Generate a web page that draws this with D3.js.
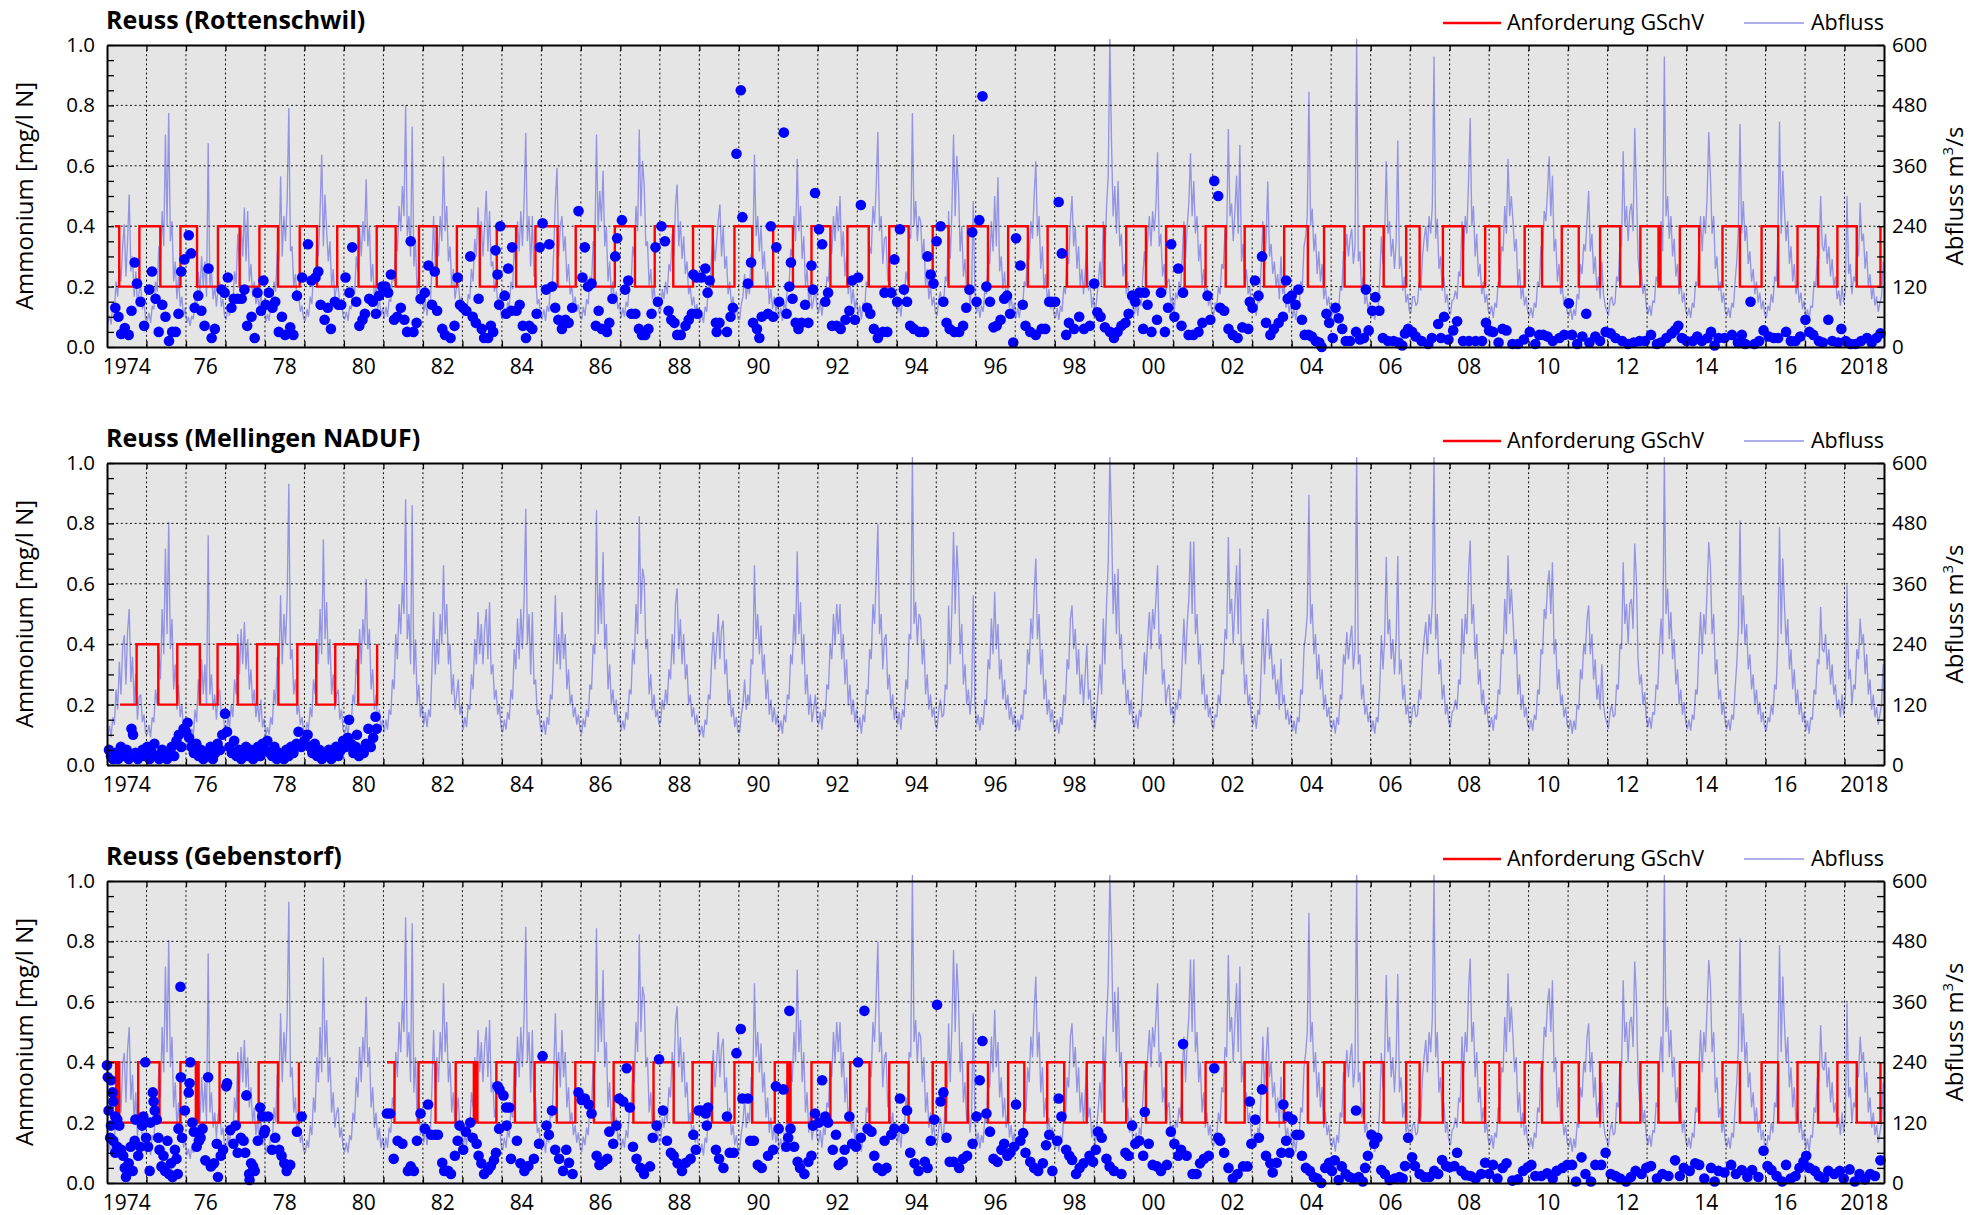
<!DOCTYPE html>
<html><head><meta charset="utf-8">
<script src="https://cdn.jsdelivr.net/npm/d3@7"></script>
<style>body{margin:0;background:#fff}svg{display:block}text{font-family:"Open Sans",sans-serif;fill:#000}</style>
</head><body><svg id="c" width="1984" height="1215"></svg>
<script>
const years = d3.range(1974, 2019);
const xLabelYears = d3.range(1974, 2019, 2);
const xLabels = xLabelYears.map(y => (y === 1974 || y === 2018) ? String(y) : String(y).slice(2));
const yLeftLabels = [0, 0.2, 0.4, 0.6, 0.8, 1.0];
const yRightLabels = [0, 120, 240, 360, 480, 600];
const titles = ["Reuss (Rottenschwil)", "Reuss (Mellingen NADUF)", "Reuss (Gebenstorf)"];
const legendLabels = ["Anforderung GSchV", "Abfluss"];

// Abfluss (m3/s), 24 half-month values per year, Rottenschwil
const qRottenschwil = [
[48,62,45,85,70,130,100,165,130,200,244,140,210,303,150,180,100,150,80,110,120,75,90,55],
[52,68,48,82,75,130,110,200,160,270,200,422,240,465,210,250,130,170,95,140,80,100,60,78],
[48,60,42,62,55,95,75,150,110,180,120,170,100,405,120,150,95,120,80,115,130,80,95,60],
[55,80,62,105,85,150,125,225,160,240,180,277,170,270,130,165,100,130,85,105,75,110,62,80],
[50,65,52,82,70,130,110,190,170,339,180,260,210,290,475,190,200,120,145,90,105,70,82,56],
[52,75,60,100,85,150,125,210,180,270,382,200,303,230,170,210,120,155,95,120,120,80,95,60],
[55,70,52,82,75,120,105,180,150,235,180,250,210,333,200,240,130,165,95,120,75,95,62,78],
[56,80,60,95,90,150,130,225,190,280,230,320,260,481,220,260,180,438,160,210,105,140,82,105],
[70,90,62,95,82,160,260,160,220,180,260,210,379,230,280,170,200,120,155,95,120,135,85,100],
[60,82,62,105,95,155,130,215,180,277,200,250,180,240,310,190,270,160,170,110,130,85,100,62],
[55,78,60,90,80,130,115,200,165,250,190,270,200,290,425,210,260,160,260,140,145,85,95,62],
[55,75,52,82,70,120,115,190,290,356,180,240,260,190,220,130,165,105,120,82,100,70,85,60],
[55,80,62,95,85,140,130,210,200,422,230,310,250,350,200,240,130,170,105,130,85,110,75,88],
[58,78,60,90,80,130,120,200,180,280,230,432,260,370,320,200,210,120,155,95,120,82,95,68],
[72,115,95,130,105,165,150,225,180,280,323,200,250,175,220,145,170,105,120,82,100,70,85,60],
[50,68,48,80,70,120,115,185,220,170,210,250,283,180,240,155,180,105,130,82,100,65,82,55],
[55,85,100,145,95,125,105,185,175,382,220,260,190,240,155,190,115,150,85,115,75,100,70,88],
[58,78,52,88,75,120,115,195,180,260,210,374,230,280,175,220,120,155,85,120,75,95,120,78],
[68,92,62,95,82,140,130,210,185,260,210,280,230,300,180,230,140,180,105,140,85,115,75,95],
[62,82,55,88,75,130,120,200,185,280,245,320,427,230,260,165,215,220,130,155,95,120,80,100],
[68,92,60,95,82,150,130,225,215,465,240,290,210,260,250,175,215,120,155,95,120,82,100,68],
[62,95,110,82,88,140,130,270,175,270,422,260,380,320,190,240,140,175,105,130,85,120,290,105],
[68,88,58,82,70,112,105,180,165,250,190,300,200,337,150,180,115,150,95,120,78,100,70,88],
[58,78,58,88,78,130,120,200,175,250,215,300,369,220,260,155,200,115,145,88,115,75,95,65],
[58,78,54,82,70,120,105,180,165,250,300,200,240,155,200,120,155,105,150,200,112,130,78,100],
[62,95,130,170,120,250,175,280,340,612,409,260,320,225,330,200,225,140,165,105,130,88,112,75],
[65,88,62,95,82,140,190,155,210,260,200,270,230,280,387,200,225,140,165,105,130,135,88,100],
[68,108,95,130,112,180,250,175,240,285,385,260,330,225,260,170,205,120,155,95,120,82,100,68],
[62,88,82,120,105,165,155,235,215,433,260,285,210,270,340,225,402,170,205,120,155,105,120,82],
[68,88,62,95,88,165,250,155,215,329,180,205,145,170,120,145,95,180,105,120,78,95,68,88],
[58,75,54,82,75,130,120,200,220,260,507,240,275,190,225,145,190,130,165,95,120,82,100,68],
[62,78,54,82,70,120,112,190,175,225,180,215,235,165,200,612,170,190,112,140,85,105,72,90],
[58,75,54,82,75,130,220,165,215,369,225,250,180,215,155,210,410,155,180,112,140,88,105,72],
[68,100,100,82,88,130,112,180,215,240,190,260,225,280,577,215,255,155,180,112,140,88,105,72],
[65,92,95,112,95,150,140,250,190,260,225,330,455,240,280,180,225,140,165,105,130,88,105,72],
[65,82,58,88,78,130,120,200,190,280,225,374,260,300,250,190,215,120,155,95,120,82,100,68],
[62,78,58,88,78,130,120,200,190,270,250,310,379,260,340,190,215,130,165,105,120,82,100,68],
[62,78,54,75,62,105,95,165,145,205,190,250,310,190,225,145,180,112,140,95,170,105,82,72],
[62,92,100,82,88,140,130,205,200,389,240,280,210,270,285,230,435,320,180,140,155,105,125,82],
[65,82,62,92,88,140,130,200,250,190,577,260,300,215,260,180,215,140,165,105,130,88,108,72],
[62,78,58,88,78,130,120,200,260,190,260,225,300,427,340,225,260,155,180,112,130,88,108,72],
[62,78,58,88,78,130,170,235,443,225,290,210,240,165,190,130,155,105,130,88,108,75,92,65],
[58,82,72,105,88,140,130,215,448,225,350,270,210,250,165,200,130,165,105,130,88,108,75,92],
[58,75,54,82,78,130,120,180,175,300,200,190,225,165,200,140,175,120,140,95,112,82,120,88],
[112,300,145,165,105,140,130,200,180,287,210,225,155,190,120,145,95,120,82,100,70,88,100,170]
];

// Abfluss (m3/s), 24 half-month values per year, Mellingen
const qMellingen = [
[60,78,55,95,80,150,110,205,140,235,258,160,265,310,165,215,120,180,90,135,140,85,100,62],
[62,80,55,95,85,150,120,230,170,310,220,430,260,483,230,290,150,200,110,160,95,120,70,90],
[55,68,48,72,60,110,85,170,120,210,140,200,120,456,140,180,110,140,90,135,150,95,110,70],
[65,95,75,120,95,170,140,260,180,270,200,284,190,250,150,190,120,150,95,125,85,130,75,92],
[58,75,60,95,80,150,120,215,190,337,200,300,240,330,559,210,230,140,170,100,120,80,95,65],
[60,85,70,115,95,170,140,250,200,310,220,448,250,324,200,250,140,180,110,140,150,90,110,70],
[62,80,60,95,85,140,120,210,170,270,200,290,240,370,230,270,150,190,110,140,85,110,70,90],
[65,90,70,110,100,170,150,260,210,320,260,360,300,528,250,300,200,516,180,250,120,160,95,120],
[80,105,75,110,95,190,304,180,250,200,300,240,397,260,320,200,240,140,180,110,140,170,100,120],
[70,95,75,120,110,180,150,250,200,304,220,280,200,270,310,210,324,180,200,130,150,100,120,75],
[65,90,70,105,90,150,130,230,190,291,210,310,230,330,509,240,300,180,304,160,170,100,110,75],
[65,88,60,95,80,140,130,220,337,200,260,190,304,210,260,150,190,120,140,95,115,80,100,70],
[62,92,75,110,95,160,150,240,220,506,260,360,280,423,230,280,150,200,120,150,100,130,85,100],
[68,88,70,105,90,150,140,230,200,320,260,494,300,390,370,230,250,140,180,110,140,95,110,80],
[85,130,110,150,120,190,170,260,200,320,351,230,290,200,260,170,200,120,140,95,115,80,100,70],
[60,78,55,90,80,140,130,210,264,190,240,300,210,270,287,180,210,120,150,95,115,75,95,65],
[65,100,120,170,110,140,120,210,200,397,250,300,220,277,180,220,130,170,100,130,85,115,80,100],
[68,88,62,100,85,140,130,220,200,300,240,424,260,324,200,260,140,180,100,140,85,110,140,90],
[80,105,70,110,95,160,150,240,210,300,240,320,260,320,210,260,160,210,120,160,100,130,85,110],
[72,95,62,100,85,150,140,230,210,320,280,373,479,260,300,190,250,260,150,180,110,140,90,115],
[80,105,70,110,95,170,150,260,250,612,280,324,240,300,291,200,250,140,180,110,140,95,115,80],
[72,110,130,95,100,160,150,317,200,310,463,300,436,370,220,280,160,200,120,150,100,140,337,120],
[80,100,68,95,80,130,120,210,190,291,220,344,230,280,170,210,130,170,110,140,90,115,80,100],
[68,90,68,100,90,150,140,230,200,291,250,344,410,250,300,180,230,130,170,100,130,85,110,75],
[68,90,62,95,80,140,120,210,190,290,317,230,270,180,230,140,180,120,180,238,130,150,90,115],
[72,110,150,200,140,291,200,320,400,612,489,300,380,260,390,230,260,160,190,120,150,100,130,85],
[75,100,72,110,95,160,224,180,250,304,230,310,270,330,397,230,260,160,190,120,150,160,100,115],
[80,125,110,150,130,210,291,200,280,330,444,300,444,260,300,200,240,140,180,110,140,95,115,80],
[72,100,95,140,120,190,180,270,250,453,300,330,240,320,397,260,430,200,240,140,180,120,140,95],
[80,100,72,110,100,190,291,180,250,310,210,240,170,200,140,170,110,211,120,140,90,110,80,100],
[68,88,62,95,85,150,140,230,258,300,537,280,320,220,260,170,220,150,190,110,140,95,115,80],
[72,90,62,95,80,140,130,220,200,264,210,250,277,190,230,612,200,220,130,160,100,120,85,105],
[68,88,62,95,85,150,258,190,250,413,260,290,210,250,180,250,415,180,210,130,160,100,120,85],
[80,115,120,95,100,150,130,210,250,284,220,300,260,327,612,250,300,180,210,130,160,100,120,85],
[75,105,110,130,110,170,160,291,220,300,260,383,446,280,320,210,260,160,190,120,150,100,120,85],
[75,95,68,100,90,150,140,230,220,330,260,416,300,350,291,220,250,140,180,110,140,95,115,80],
[72,90,68,100,90,150,140,230,220,310,290,357,387,300,403,220,250,150,190,120,140,95,115,80],
[72,90,62,88,70,120,110,190,170,240,220,290,317,220,260,170,210,130,160,110,200,120,95,85],
[72,105,120,95,100,160,150,240,230,403,280,320,240,320,330,270,440,370,210,160,180,120,145,95],
[75,95,72,105,100,160,150,230,291,220,612,300,350,250,304,210,250,160,190,120,150,100,125,85],
[72,90,68,100,90,150,140,230,304,220,300,260,350,443,397,260,300,180,210,130,150,100,125,85],
[72,90,68,100,90,150,200,270,486,260,337,240,280,190,220,150,180,120,150,100,125,85,105,75],
[68,95,85,120,100,160,150,250,473,260,410,317,240,290,190,230,150,190,120,150,100,125,85,105],
[68,88,62,95,90,150,140,210,200,314,230,224,260,190,230,160,200,140,160,110,130,95,140,100],
[130,357,170,190,120,160,150,230,210,291,240,260,180,220,140,170,110,140,95,115,80,100,120,200]
];

// Ammonium samples [decimal year, mg/l N]
const nh4Rottenschwil = [
[1974.21,0.13],[1974.29,0.10],[1974.36,0.043],[1974.45,0.063],[1974.55,0.04],[1974.62,0.12],[1974.70,0.28],[1974.76,0.21],[1974.85,0.15],[1974.94,0.07],
[1975.07,0.19],[1975.14,0.25],[1975.23,0.16],[1975.31,0.05],[1975.40,0.14],[1975.48,0.10],[1975.57,0.02],[1975.65,0.05],[1975.74,0.05],[1975.81,0.11],[1975.88,0.25],[1975.96,0.29],
[1976.07,0.37],[1976.13,0.31],[1976.22,0.13],[1976.31,0.17],[1976.39,0.12],[1976.47,0.07],[1976.57,0.26],[1976.65,0.03],[1976.73,0.06],[1976.90,0.19],[1976.98,0.18],
[1977.06,0.23],[1977.15,0.13],[1977.21,0.16],[1977.31,0.16],[1977.41,0.16],[1977.48,0.19],[1977.55,0.07],[1977.66,0.10],[1977.74,0.03],[1977.81,0.18],[1977.90,0.12],[1977.96,0.22],
[1978.02,0.14],[1978.10,0.18],[1978.19,0.13],[1978.26,0.15],[1978.35,0.05],[1978.43,0.10],[1978.51,0.04],[1978.64,0.065],[1978.72,0.04],[1978.81,0.17],[1978.94,0.23],
[1979.09,0.34],[1979.18,0.22],[1979.28,0.23],[1979.35,0.25],[1979.41,0.14],[1979.51,0.09],[1979.59,0.13],[1979.67,0.06],[1979.77,0.15],[1979.86,0.14],[1979.93,0.14],
[1980.04,0.23],[1980.14,0.18],[1980.21,0.33],[1980.31,0.15],[1980.39,0.07],[1980.47,0.09],[1980.53,0.11],[1980.64,0.16],[1980.73,0.15],[1980.81,0.11],[1980.89,0.17],[1980.97,0.20],
[1981.05,0.20],[1981.12,0.18],[1981.19,0.24],[1981.27,0.09],[1981.35,0.10],[1981.44,0.13],[1981.53,0.09],[1981.60,0.05],[1981.69,0.35],[1981.76,0.05],[1981.84,0.08],[1981.94,0.16],
[1982.05,0.18],[1982.14,0.27],[1982.23,0.14],[1982.30,0.25],[1982.36,0.12],[1982.49,0.06],[1982.56,0.04],[1982.70,0.03],[1982.80,0.07],[1982.88,0.23],[1982.94,0.14],
[1983.02,0.13],[1983.10,0.12],[1983.20,0.30],[1983.26,0.10],[1983.34,0.08],[1983.41,0.16],[1983.49,0.06],[1983.55,0.03],[1983.65,0.03],[1983.72,0.07],[1983.78,0.05],[1983.84,0.32],[1983.89,0.24],[1983.93,0.14],[1983.96,0.40],
[1984.07,0.17],[1984.11,0.11],[1984.16,0.26],[1984.24,0.12],[1984.26,0.33],[1984.37,0.12],[1984.45,0.14],[1984.53,0.07],[1984.61,0.03],[1984.69,0.07],[1984.77,0.06],[1984.88,0.11],[1984.96,0.33],
[1985.03,0.41],[1985.12,0.19],[1985.20,0.34],[1985.27,0.20],[1985.35,0.13],[1985.43,0.09],[1985.52,0.06],[1985.61,0.09],[1985.69,0.08],[1985.78,0.13],[1985.94,0.45],
[1986.04,0.23],[1986.10,0.33],[1986.18,0.20],[1986.27,0.21],[1986.38,0.07],[1986.45,0.12],[1986.53,0.06],[1986.66,0.05],[1986.72,0.08],[1986.80,0.16],[1986.87,0.30],[1986.92,0.36],
[1987.04,0.42],[1987.12,0.19],[1987.20,0.22],[1987.28,0.11],[1987.38,0.11],[1987.47,0.06],[1987.55,0.04],[1987.63,0.04],[1987.71,0.06],[1987.79,0.11],[1987.89,0.33],[1987.95,0.15],
[1988.04,0.40],[1988.13,0.35],[1988.22,0.12],[1988.29,0.09],[1988.37,0.08],[1988.44,0.04],[1988.53,0.04],[1988.65,0.07],[1988.73,0.09],[1988.81,0.11],[1988.85,0.24],[1988.93,0.23],[1988.95,0.11],
[1989.05,0.23],[1989.15,0.26],[1989.21,0.18],[1989.26,0.22],[1989.42,0.08],[1989.44,0.05],[1989.51,0.08],[1989.70,0.05],[1989.79,0.10],[1989.85,0.13],[1989.94,0.64],
[1990.05,0.85],[1990.09,0.43],[1990.23,0.21],[1990.31,0.28],[1990.36,0.08],[1990.46,0.06],[1990.52,0.03],[1990.58,0.10],[1990.74,0.11],[1990.81,0.40],[1990.87,0.10],[1990.95,0.33],
[1991.02,0.15],[1991.14,0.71],[1991.21,0.11],[1991.28,0.20],[1991.32,0.28],[1991.36,0.16],[1991.44,0.08],[1991.51,0.06],[1991.59,0.08],[1991.68,0.14],[1991.76,0.08],[1991.84,0.27],[1991.88,0.19],[1991.93,0.51],
[1992.03,0.39],[1992.11,0.34],[1992.19,0.15],[1992.26,0.18],[1992.36,0.07],[1992.48,0.07],[1992.58,0.06],[1992.70,0.09],[1992.80,0.12],[1992.87,0.22],[1992.94,0.09],
[1993.02,0.23],[1993.09,0.47],[1993.25,0.13],[1993.33,0.11],[1993.42,0.06],[1993.52,0.03],[1993.65,0.05],[1993.69,0.18],[1993.76,0.05],[1993.86,0.18],[1993.94,0.29],
[1994.01,0.15],[1994.08,0.39],[1994.18,0.19],[1994.26,0.15],[1994.34,0.07],[1994.43,0.06],[1994.57,0.05],[1994.69,0.05],[1994.78,0.30],[1994.86,0.24],[1994.93,0.21],
[1995.01,0.35],[1995.11,0.40],[1995.18,0.15],[1995.26,0.08],[1995.34,0.06],[1995.46,0.05],[1995.58,0.05],[1995.68,0.07],[1995.76,0.13],[1995.84,0.19],[1995.91,0.38],
[1996.02,0.15],[1996.09,0.42],[1996.17,0.83],[1996.27,0.20],[1996.36,0.15],[1996.45,0.065],[1996.53,0.07],[1996.63,0.09],[1996.72,0.16],[1996.79,0.17],[1996.87,0.11],[1996.95,0.015],
[1997.02,0.36],[1997.13,0.27],[1997.19,0.14],[1997.26,0.07],[1997.38,0.05],[1997.52,0.04],[1997.67,0.06],[1997.76,0.06],[1997.86,0.15],[1997.93,0.15],
[1998.01,0.15],[1998.10,0.48],[1998.18,0.31],[1998.29,0.04],[1998.36,0.08],[1998.49,0.06],[1998.62,0.10],[1998.74,0.06],[1998.89,0.07],
[1999.00,0.21],[1999.08,0.115],[1999.16,0.10],[1999.27,0.065],[1999.40,0.05],[1999.50,0.03],[1999.59,0.05],[1999.69,0.07],[1999.79,0.08],[1999.87,0.11],[1999.96,0.17],
[2000.04,0.15],[2000.14,0.18],[2000.24,0.06],[2000.28,0.18],[2000.35,0.14],[2000.45,0.05],[2000.59,0.09],[2000.69,0.18],[2000.79,0.05],[2000.87,0.13],[2000.95,0.34],
[2001.03,0.10],[2001.13,0.26],[2001.21,0.07],[2001.25,0.18],[2001.39,0.04],[2001.51,0.04],[2001.64,0.05],[2001.74,0.08],[2001.87,0.17],[2001.94,0.09],
[2002.04,0.55],[2002.14,0.50],[2002.19,0.13],[2002.29,0.12],[2002.40,0.06],[2002.51,0.04],[2002.63,0.03],[2002.75,0.065],[2002.90,0.06],[2002.94,0.15],
[2003.01,0.13],[2003.07,0.22],[2003.16,0.17],[2003.25,0.30],[2003.35,0.08],[2003.46,0.04],[2003.55,0.06],[2003.67,0.08],[2003.78,0.10],[2003.86,0.22],[2003.90,0.16],
[2004.00,0.17],[2004.10,0.14],[2004.17,0.19],[2004.26,0.09],[2004.33,0.04],[2004.43,0.04],[2004.51,0.035],[2004.61,0.02],[2004.70,0.015],[2004.76,0.00],[2004.88,0.11],[2004.95,0.08],
[2005.04,0.03],[2005.11,0.13],[2005.19,0.095],[2005.28,0.06],[2005.37,0.02],[2005.48,0.02],[2005.63,0.05],[2005.73,0.025],[2005.83,0.03],[2005.88,0.19],[2005.95,0.055],
[2006.04,0.12],[2006.12,0.165],[2006.22,0.12],[2006.31,0.03],[2006.44,0.02],[2006.58,0.02],[2006.71,0.015],[2006.80,0.005],[2006.87,0.045],[2006.95,0.06],
[2007.05,0.05],[2007.14,0.035],[2007.29,0.02],[2007.46,0.01],[2007.55,0.03],[2007.71,0.076],[2007.78,0.03],[2007.86,0.10],[2007.97,0.025],
[2008.09,0.055],[2008.19,0.085],[2008.34,0.02],[2008.49,0.02],[2008.66,0.02],[2008.82,0.02],[2008.92,0.08],
[2009.00,0.055],[2009.10,0.05],[2009.24,0.015],[2009.34,0.06],[2009.44,0.055],[2009.59,0.01],[2009.73,0.01],[2009.88,0.025],
[2010.03,0.05],[2010.17,0.01],[2010.27,0.04],[2010.37,0.04],[2010.48,0.035],[2010.61,0.02],[2010.78,0.03],[2010.90,0.04],
[2011.02,0.145],[2011.10,0.04],[2011.23,0.01],[2011.36,0.035],[2011.46,0.11],[2011.54,0.015],[2011.69,0.035],[2011.81,0.02],[2011.95,0.05],
[2012.08,0.045],[2012.20,0.03],[2012.37,0.02],[2012.52,0.01],[2012.66,0.015],[2012.81,0.02],[2012.95,0.02],
[2013.10,0.04],[2013.25,0.01],[2013.35,0.015],[2013.49,0.03],[2013.62,0.045],[2013.71,0.056],[2013.79,0.07],[2013.88,0.03],
[2014.00,0.02],[2014.16,0.02],[2014.27,0.035],[2014.39,0.02],[2014.53,0.03],[2014.62,0.05],[2014.71,0.005],[2014.81,0.03],[2014.96,0.03],
[2015.15,0.04],[2015.30,0.015],[2015.40,0.04],[2015.49,0.01],[2015.62,0.15],[2015.72,0.01],[2015.84,0.02],[2015.95,0.055],
[2016.08,0.035],[2016.21,0.03],[2016.32,0.03],[2016.52,0.05],[2016.64,0.02],[2016.76,0.02],[2016.88,0.035],
[2017.01,0.09],[2017.11,0.05],[2017.21,0.04],[2017.35,0.02],[2017.45,0.015],[2017.59,0.09],[2017.69,0.02],[2017.84,0.015],[2017.92,0.06],
[2018.03,0.02],[2018.16,0.01],[2018.28,0.01],[2018.42,0.02],[2018.57,0.03],[2018.69,0.015],[2018.81,0.03],[2018.91,0.045]
];

const nh4Mellingen = [
[1974.05,0.05],[1974.10,0.03],[1974.15,0.02],[1974.22,0.04],[1974.28,0.02],[1974.35,0.06],[1974.42,0.03],[1974.50,0.05],[1974.55,0.02],[1974.62,0.12],[1974.66,0.10],[1974.72,0.04],[1974.78,0.02],[1974.84,0.03],[1974.90,0.05],[1974.96,0.03],
[1975.02,0.06],[1975.08,0.02],[1975.14,0.04],[1975.20,0.07],[1975.26,0.03],[1975.32,0.02],[1975.40,0.05],[1975.46,0.03],[1975.52,0.02],[1975.58,0.04],[1975.64,0.06],[1975.70,0.03],[1975.76,0.08],[1975.82,0.10],[1975.88,0.06],[1975.94,0.12],
[1976.00,0.11],[1976.04,0.14],[1976.08,0.09],[1976.14,0.06],[1976.20,0.04],[1976.26,0.07],[1976.32,0.03],[1976.38,0.05],[1976.44,0.02],[1976.50,0.04],[1976.56,0.03],[1976.62,0.06],[1976.68,0.02],[1976.74,0.04],[1976.80,0.07],[1976.86,0.05],[1976.92,0.10],[1976.99,0.17],
[1977.04,0.11],[1977.10,0.06],[1977.16,0.04],[1977.22,0.08],[1977.28,0.03],[1977.34,0.05],[1977.40,0.02],[1977.46,0.04],[1977.52,0.06],[1977.58,0.03],[1977.64,0.05],[1977.70,0.02],[1977.76,0.04],[1977.82,0.06],[1977.88,0.03],[1977.94,0.07],
[1978.00,0.05],[1978.06,0.08],[1978.12,0.04],[1978.18,0.03],[1978.24,0.06],[1978.30,0.02],[1978.36,0.04],[1978.42,0.03],[1978.48,0.02],[1978.54,0.05],[1978.60,0.03],[1978.66,0.06],[1978.72,0.04],[1978.80,0.07],[1978.85,0.11],[1978.92,0.06],
[1979.00,0.08],[1979.08,0.10],[1979.14,0.06],[1979.20,0.04],[1979.26,0.07],[1979.32,0.03],[1979.38,0.05],[1979.44,0.02],[1979.50,0.04],[1979.56,0.03],[1979.62,0.05],[1979.68,0.02],[1979.74,0.04],[1979.80,0.06],[1979.86,0.03],[1979.92,0.05],[1979.98,0.08],
[1980.04,0.06],[1980.10,0.09],[1980.13,0.15],[1980.18,0.07],[1980.24,0.04],[1980.30,0.06],[1980.33,0.10],[1980.38,0.03],[1980.44,0.05],[1980.50,0.04],[1980.56,0.07],[1980.62,0.12],[1980.68,0.06],[1980.74,0.09],[1980.80,0.16],[1980.83,0.12]
];

const nh4Gebenstorf = [
[1974.00,0.39],[1974.02,0.35],[1974.10,0.34],[1974.14,0.30],[1974.16,0.27],[1974.04,0.24],[1974.21,0.22],[1974.26,0.21],[1974.10,0.19],[1974.31,0.19],[1974.08,0.15],[1974.16,0.14],[1974.26,0.12],[1974.36,0.11],[1974.21,0.10],[1974.41,0.09],[1974.45,0.05],[1974.48,0.02],[1974.55,0.065],[1974.60,0.12],[1974.65,0.04],[1974.70,0.14],[1974.72,0.21],[1974.79,0.09],[1974.84,0.12],[1974.89,0.19],[1974.92,0.22],[1974.97,0.40],[1974.99,0.15],
[1975.04,0.12],[1975.08,0.04],[1975.10,0.20],[1975.16,0.30],[1975.18,0.27],[1975.21,0.24],[1975.26,0.21],[1975.30,0.15],[1975.33,0.11],[1975.38,0.055],[1975.43,0.09],[1975.47,0.04],[1975.53,0.14],[1975.57,0.03],[1975.62,0.065],[1975.66,0.02],[1975.72,0.11],[1975.76,0.08],[1975.79,0.03],[1975.81,0.18],[1975.86,0.65],[1975.87,0.35],[1975.90,0.15],[1975.97,0.24],
[1976.07,0.30],[1976.11,0.40],[1976.09,0.33],[1976.16,0.20],[1976.20,0.17],[1976.27,0.12],[1976.33,0.14],[1976.37,0.15],[1976.42,0.18],[1976.49,0.075],[1976.56,0.35],[1976.63,0.055],[1976.71,0.065],[1976.78,0.13],[1976.81,0.02],[1976.88,0.09],[1976.94,0.11],
[1977.02,0.32],[1977.04,0.33],[1977.12,0.175],[1977.20,0.13],[1977.26,0.19],[1977.31,0.10],[1977.39,0.15],[1977.46,0.14],[1977.50,0.10],[1977.53,0.29],[1977.60,0.03],[1977.65,0.065],[1977.70,0.055],[1977.74,0.04],[1977.61,0.01],[1977.82,0.14],[1977.88,0.25],[1977.93,0.22],[1977.98,0.165],
[1978.00,0.175],[1978.08,0.22],[1978.18,0.11],[1978.26,0.15],[1978.36,0.11],[1978.42,0.09],[1978.49,0.065],[1978.55,0.04],[1978.64,0.06],[1978.81,0.17],[1978.93,0.22],
[1981.09,0.23],[1981.17,0.23],[1981.26,0.08],[1981.36,0.14],[1981.48,0.13],[1981.62,0.04],[1981.69,0.055],[1981.77,0.04],[1981.85,0.14],[1981.94,0.23],
[1982.05,0.18],[1982.13,0.26],[1982.21,0.16],[1982.31,0.16],[1982.38,0.16],[1982.49,0.067],[1982.54,0.04],[1982.64,0.04],[1982.71,0.03],[1982.81,0.09],[1982.88,0.14],[1982.93,0.19],
[1983.02,0.11],[1983.09,0.17],[1983.20,0.20],[1983.26,0.15],[1983.36,0.13],[1983.41,0.09],[1983.48,0.065],[1983.55,0.03],[1983.65,0.043],[1983.72,0.056],[1983.80,0.076],[1983.85,0.10],[1983.89,0.32],[1983.94,0.31],[1983.93,0.18],
[1984.04,0.29],[1984.11,0.25],[1984.19,0.25],[1984.12,0.19],[1984.23,0.08],[1984.38,0.14],[1984.47,0.065],[1984.57,0.04],[1984.67,0.056],[1984.81,0.08],[1984.94,0.13],
[1985.03,0.42],[1985.13,0.19],[1985.19,0.16],[1985.27,0.24],[1985.35,0.11],[1985.45,0.08],[1985.55,0.04],[1985.63,0.11],[1985.70,0.067],[1985.79,0.03],[1985.94,0.30],
[1986.02,0.275],[1986.10,0.28],[1986.20,0.26],[1986.27,0.23],[1986.40,0.09],[1986.47,0.06],[1986.57,0.07],[1986.67,0.08],[1986.72,0.17],[1986.82,0.13],[1986.90,0.19],[1986.97,0.28],
[1987.07,0.27],[1987.16,0.38],[1987.24,0.25],[1987.32,0.12],[1987.41,0.08],[1987.51,0.05],[1987.60,0.03],[1987.75,0.055],[1987.82,0.15],[1987.92,0.19],[1987.98,0.41],
[1988.08,0.24],[1988.18,0.14],[1988.28,0.10],[1988.35,0.09],[1988.45,0.065],[1988.56,0.04],[1988.66,0.067],[1988.78,0.08],[1988.85,0.16],[1988.91,0.11],[1988.98,0.24],
[1989.05,0.24],[1989.16,0.23],[1989.22,0.25],[1989.19,0.19],[1989.42,0.11],[1989.50,0.08],[1989.61,0.05],[1989.70,0.22],[1989.77,0.10],[1989.87,0.10],[1989.94,0.43],
[1990.05,0.51],[1990.09,0.28],[1990.23,0.28],[1990.29,0.14],[1990.38,0.14],[1990.48,0.06],[1990.58,0.05],[1990.74,0.09],[1990.87,0.11],[1990.94,0.32],
[1991.01,0.18],[1991.13,0.31],[1991.20,0.12],[1991.25,0.15],[1991.28,0.57],[1991.31,0.18],[1991.40,0.12],[1991.49,0.07],[1991.55,0.05],[1991.66,0.03],[1991.76,0.07],[1991.84,0.09],[1991.88,0.19],[1991.93,0.23],
[1992.03,0.20],[1992.11,0.34],[1992.19,0.22],[1992.26,0.20],[1992.38,0.11],[1992.46,0.16],[1992.53,0.06],[1992.63,0.07],[1992.68,0.11],[1992.80,0.22],[1992.87,0.13],[1992.97,0.12],
[1993.02,0.40],[1993.09,0.15],[1993.18,0.57],[1993.26,0.18],[1993.36,0.17],[1993.43,0.09],[1993.52,0.05],[1993.63,0.04],[1993.69,0.14],[1993.74,0.05],[1993.86,0.16],[1993.94,0.18],
[1994.08,0.28],[1994.18,0.18],[1994.26,0.24],[1994.34,0.10],[1994.45,0.065],[1994.55,0.04],[1994.71,0.07],[1994.78,0.05],[1994.86,0.14],[1994.95,0.21],
[1995.02,0.59],[1995.11,0.27],[1995.18,0.30],[1995.26,0.15],[1995.34,0.07],[1995.44,0.07],[1995.58,0.05],[1995.68,0.08],[1995.78,0.09],[1995.92,0.13],
[1996.02,0.22],[1996.10,0.34],[1996.17,0.47],[1996.27,0.23],[1996.36,0.17],[1996.45,0.08],[1996.55,0.07],[1996.65,0.11],[1996.72,0.13],[1996.80,0.09],[1996.87,0.10],[1996.97,0.12],
[1997.02,0.26],[1997.13,0.14],[1997.20,0.165],[1997.26,0.10],[1997.38,0.07],[1997.48,0.05],[1997.58,0.04],[1997.70,0.065],[1997.78,0.125],[1997.86,0.16],[1997.94,0.04],
[1998.06,0.14],[1998.10,0.28],[1998.17,0.22],[1998.29,0.11],[1998.37,0.09],[1998.44,0.076],[1998.54,0.03],[1998.63,0.05],[1998.73,0.065],[1998.88,0.09],[1998.97,0.07],
[1999.04,0.11],[1999.10,0.17],[1999.19,0.15],[1999.31,0.08],[1999.39,0.055],[1999.50,0.04],[1999.69,0.03],[1999.79,0.10],[1999.87,0.09],[1999.96,0.19],
[2000.04,0.13],[2000.14,0.14],[2000.24,0.09],[2000.28,0.235],[2000.38,0.13],[2000.48,0.06],[2000.59,0.055],[2000.69,0.04],[2000.84,0.06],[2000.94,0.17],
[2001.03,0.13],[2001.13,0.09],[2001.20,0.11],[2001.25,0.46],[2001.34,0.09],[2001.49,0.03],[2001.59,0.03],[2001.68,0.065],[2001.78,0.08],[2001.90,0.09],
[2002.04,0.38],[2002.14,0.15],[2002.19,0.14],[2002.29,0.10],[2002.40,0.05],[2002.51,0.015],[2002.63,0.03],[2002.77,0.055],[2002.88,0.055],[2002.94,0.27],[2002.98,0.13],
[2003.08,0.21],[2003.17,0.15],[2003.25,0.31],[2003.35,0.09],[2003.46,0.065],[2003.52,0.035],[2003.62,0.067],[2003.74,0.10],[2003.79,0.26],[2003.86,0.14],[2003.91,0.22],[2003.94,0.10],
[2004.02,0.21],[2004.12,0.16],[2004.20,0.16],[2004.26,0.09],[2004.36,0.05],[2004.46,0.04],[2004.56,0.02],[2004.65,0.015],[2004.75,0.00],[2004.85,0.05],[2004.95,0.067],
[2005.02,0.04],[2005.09,0.075],[2005.19,0.01],[2005.27,0.055],[2005.37,0.03],[2005.46,0.02],[2005.56,0.015],[2005.63,0.24],[2005.70,0.02],[2005.80,0.005],[2005.86,0.05],[2005.93,0.09],
[2006.02,0.16],[2006.09,0.13],[2006.17,0.15],[2006.27,0.043],[2006.36,0.03],[2006.48,0.01],[2006.61,0.015],[2006.73,0.02],[2006.81,0.015],[2006.87,0.056],[2006.95,0.15],
[2007.05,0.085],[2007.12,0.056],[2007.24,0.03],[2007.36,0.02],[2007.49,0.02],[2007.61,0.04],[2007.71,0.03],[2007.81,0.076],[2007.91,0.056],
[2008.00,0.052],[2008.12,0.056],[2008.19,0.10],[2008.30,0.04],[2008.41,0.026],[2008.53,0.023],[2008.66,0.015],[2008.80,0.03],[2008.90,0.067],
[2009.00,0.03],[2009.10,0.06],[2009.21,0.015],[2009.34,0.05],[2009.44,0.065],[2009.59,0.008],[2009.73,0.012],[2009.86,0.04],[2009.98,0.052],
[2010.07,0.06],[2010.17,0.023],[2010.32,0.023],[2010.47,0.032],[2010.61,0.015],[2010.71,0.04],[2010.86,0.05],[2010.98,0.06],
[2011.10,0.06],[2011.20,0.005],[2011.34,0.085],[2011.44,0.03],[2011.58,0.005],[2011.69,0.06],[2011.84,0.06],[2011.95,0.10],
[2012.08,0.03],[2012.20,0.023],[2012.32,0.015],[2012.47,0.005],[2012.59,0.02],[2012.71,0.04],[2012.86,0.03],[2012.98,0.05],
[2013.10,0.056],[2013.25,0.015],[2013.39,0.03],[2013.54,0.023],[2013.71,0.075],[2013.83,0.023],[2013.93,0.05],
[2014.08,0.04],[2014.22,0.065],[2014.32,0.06],[2014.45,0.015],[2014.62,0.05],[2014.71,0.005],[2014.81,0.04],[2014.96,0.035],
[2015.13,0.06],[2015.25,0.03],[2015.40,0.043],[2015.54,0.02],[2015.66,0.043],[2015.82,0.02],[2015.95,0.107],
[2016.05,0.056],[2016.15,0.043],[2016.28,0.023],[2016.42,0.005],[2016.52,0.06],[2016.64,0.015],[2016.76,0.023],[2016.86,0.05],[2016.96,0.07],
[2017.03,0.09],[2017.11,0.05],[2017.25,0.04],[2017.35,0.023],[2017.48,0.015],[2017.59,0.04],[2017.74,0.03],[2017.88,0.04],[2017.98,0.015],
[2018.13,0.045],[2018.26,0.005],[2018.38,0.03],[2018.52,0.012],[2018.65,0.03],[2018.77,0.023],[2018.91,0.075]
];

// GSchV requirement: change times (decimal year); level alternates starting from the first level
const gschvRottenschwil = {start: 0.4, times: [1974.20,1974.31,1974.82,1975.35,1975.86,1976.28,1976.81,1977.36,1977.86,1978.33,1978.88,1979.32,1979.83,1980.37,1980.83,1981.31,1981.90,1982.35,1982.86,1983.44,1983.87,1984.36,1984.85,1985.41,1985.87,1986.35,1986.86,1987.37,1987.87,1988.34,1988.84,1989.34,1989.89,1990.34,1990.87,1991.37,1991.84,1992.32,1992.75,1993.29,1993.81,1994.30,1994.91,1995.31,1995.80,1996.31,1996.82,1997.32,1997.82,1998.31,1998.81,1999.26,1999.81,2000.31,2000.82,2001.29,2001.82,2002.33,2002.81,2003.30,2003.81,2004.41,2004.82,2005.34,2005.83,2006.33,2006.90,2007.24,2007.83,2008.34,2008.90,2009.26,2009.90,2010.34,2010.84,2011.27,2011.81,2012.32,2012.83,2013.29,2013.31,2013.34,2013.83,2014.32,2014.91,2015.35,2015.90,2016.32,2016.81,2017.33,2017.82,2018.31,2018.91]};
const gschvMellingen = {start: 0.2, times: [1974.33,1974.75,1975.30,1975.78,1976.35,1976.80,1977.31,1977.80,1978.34,1978.82,1979.30,1979.78,1980.36,1980.84]};
const gschvGebenstorf1 = {start: 0.4, times: [1974.02,1974.23,1974.26,1974.31,1974.79,1975.33,1975.86,1976.25,1976.28,1976.32,1976.85,1977.33,1977.84,1978.33,1978.86]};
const gschvGebenstorf2 = {start: 0.4, times: [1981.09,1981.28,1981.89,1982.32,1982.83,1983.29,1983.34,1983.38,1983.86,1984.33,1984.83,1985.39,1985.86,1986.33,1986.83,1987.33,1987.84,1988.35,1988.83,1989.32,1989.89,1990.34,1990.91,1991.23,1991.27,1991.31,1991.84,1992.32,1992.82,1993.31,1993.81,1994.30,1994.91,1995.24,1995.80,1996.31,1996.82,1997.23,1997.81,1998.24,1998.81,1999.26,1999.81,2000.31,2000.82,2001.22,2001.82,2002.33,2002.81,2003.38,2003.81,2004.41,2004.82,2005.34,2005.83,2006.33,2006.90,2007.24,2007.83,2008.34,2008.90,2009.26,2009.90,2010.34,2010.84,2011.27,2011.81,2012.32,2012.83,2013.29,2013.83,2014.32,2014.91,2015.35,2015.90,2016.32,2016.81,2017.33,2017.82,2018.31,2018.91]};

// ---------- drawing ----------
const svg = d3.select("#c");
const X0 = 107, X1 = 1884, PH = 302;
const tops = [45, 463, 881];
const x = d3.scaleLinear().domain([1974, 2019]).range([X0, X1]);
const RED = "#ff0000", QCOL = "#9494e4", DOT = "#0000ff";

function stepPoints(s) {
  const other = s.start === 0.4 ? 0.2 : 0.4;
  return s.times.map((t, i) => [t, i % 2 === 0 ? s.start : other]);
}
function qSeries(q) {
  const pts = [];
  q.forEach((arr, k) => arr.forEach((v, j) => pts.push([years[k] + (j + 0.5) / 24, v])));
  return pts;
}

function panel(i, q, nh4, gschvList) {
  const top = tops[i], bot = top + PH;
  const yL = d3.scaleLinear().domain([0, 1]).range([bot, top]);
  const yR = d3.scaleLinear().domain([0, 600]).range([bot, top]);
  const g = svg.append("g");
  g.append("rect").attr("x", X0).attr("y", top).attr("width", X1 - X0).attr("height", PH).attr("fill", "#e5e5e5");

  // discharge
  g.append("path").datum(qSeries(q))
    .attr("d", d3.line().x(d => x(d[0])).y(d => yR(d[1])))
    .attr("fill", "none").attr("stroke", QCOL).attr("stroke-width", 1.35).attr("stroke-linejoin", "miter").attr("stroke-miterlimit", 2);

  // grid
  const grid = g.append("g").attr("stroke", "#111").attr("stroke-width", 1).attr("stroke-dasharray", "2,2.6");
  grid.selectAll("line.v").data(d3.range(1975, 2019)).join("line")
    .attr("x1", d => x(d)).attr("x2", d => x(d)).attr("y1", top).attr("y2", bot);
  grid.selectAll("line.h").data(yLeftLabels.slice(1, 5)).join("line").attr("class", "h")
    .attr("x1", X0).attr("x2", X1).attr("y1", d => yL(d)).attr("y2", d => yL(d));

  // GSchV
  const step = d3.line().x(d => x(d[0])).y(d => yL(d[1])).curve(d3.curveStepAfter);
  gschvList.forEach(s => {
    g.append("path").datum(stepPoints(s)).attr("d", step)
      .attr("fill", "none").attr("stroke", RED).attr("stroke-width", 2.4);
  });

  // samples
  g.append("g").selectAll("circle").data(nh4).join("circle")
    .attr("cx", d => x(d[0])).attr("cy", d => yL(d[1])).attr("r", 5.3).attr("fill", DOT);

  // axes
  const fmtL = d => (Math.round(d * 20) % 4 === 0) ? d3.format(".1f")(d) : "";
  const axL = d3.axisLeft(yL).tickValues(d3.range(0, 21).map(k => k / 20)).tickSize(-7).tickSizeOuter(0).tickPadding(12).tickFormat(fmtL);
  const axR = d3.axisRight(yR).tickValues(d3.range(0, 601, 30)).tickSize(-7).tickSizeOuter(0).tickPadding(8)
    .tickFormat(d => yRightLabels.includes(d) ? String(d) : "");
  const axB = d3.axisBottom(x).tickValues(d3.range(1975, 2019)).tickSize(-6).tickSizeOuter(0).tickFormat("");
  const axT = d3.axisTop(x).tickValues(d3.range(1975, 2019)).tickSize(-6).tickSizeOuter(0).tickFormat("");
  const style = sel => {
    sel.selectAll("path.domain").attr("stroke", "#000").attr("stroke-width", 2);
    sel.selectAll(".tick line").attr("stroke", "#000").attr("stroke-width", 1.3);
    sel.selectAll("text").attr("font-size", 20.5).attr("font-family", "Open Sans").attr("fill", "#000");
  };
  g.append("g").attr("transform", `translate(${X0},0)`).call(axL).call(style);
  g.append("g").attr("transform", `translate(${X1},0)`).call(axR).call(style);
  g.append("g").attr("transform", `translate(0,${bot})`).call(axB).call(style);
  g.append("g").attr("transform", `translate(0,${top})`).call(axT).call(style);

  // x labels centred in the year
  g.selectAll("text.xl").data(xLabelYears).join("text").attr("class", "xl")
    .attr("x", d => x(d + 0.5)).attr("y", bot + 27).attr("text-anchor", "middle").attr("font-size", 21)
    .text((d, k) => xLabels[k]);

  // title
  g.append("text").attr("x", X0 - 1).attr("y", top - 16).attr("font-size", 25).attr("font-weight", "bold").text(titles[i]);

  // legend
  const ly = top - 22;
  g.append("line").attr("x1", 1443).attr("x2", 1501).attr("y1", ly).attr("y2", ly).attr("stroke", RED).attr("stroke-width", 2.4);
  g.append("text").attr("x", 1507).attr("y", top - 15).attr("font-size", 21.5).text(legendLabels[0]);
  g.append("line").attr("x1", 1744).attr("x2", 1804).attr("y1", ly).attr("y2", ly).attr("stroke", QCOL).attr("stroke-width", 1.3);
  g.append("text").attr("x", X1).attr("y", top - 15).attr("text-anchor", "end").attr("font-size", 21.5).text(legendLabels[1]);

  // axis titles
  const cy = (top + bot) / 2;
  g.append("text").attr("transform", `translate(33,${cy}) rotate(-90)`).attr("text-anchor", "middle")
    .attr("font-size", 24).text("Ammonium [mg/l N]");
  const rt = g.append("text").attr("transform", `translate(1963,${cy}) rotate(-90)`).attr("text-anchor", "middle").attr("font-size", 24);
  rt.append("tspan").text("Abfluss m");
  rt.append("tspan").attr("font-size", 15).attr("dy", -10).text("3");
  rt.append("tspan").attr("dy", 10).text("/s");
}

panel(0, qRottenschwil, nh4Rottenschwil, [gschvRottenschwil]);
panel(1, qMellingen, nh4Mellingen, [gschvMellingen]);
panel(2, qMellingen, nh4Gebenstorf, [gschvGebenstorf1, gschvGebenstorf2]);
</script></body></html>
